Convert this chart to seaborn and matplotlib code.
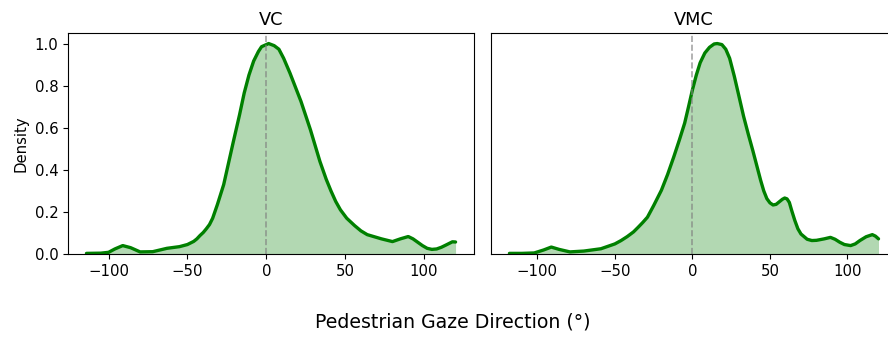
import matplotlib
matplotlib.use("Agg")
import matplotlib.pyplot as plt
import seaborn as sns

# Normalised gaze-direction density curves (peak = 1.0)
vc_angle = [-114, -105, -100, -96, -91, -86, -80, -72, -63, -55, -50, -46, -44,
            -42, -40, -38, -36, -34, -31, -27, -24, -21, -17, -14, -11, -8, -5,
            -3, 1.5, 5, 8, 11, 15, 22, 28, 34, 38, 41, 44, 47, 51, 56, 60, 64,
            73, 80, 85, 90, 93, 96, 99, 102, 105, 108, 111, 114, 118, 120]
vc_density = [0.003, 0.004, 0.008, 0.024, 0.04, 0.03, 0.01, 0.011, 0.027, 0.035,
              0.045, 0.06, 0.072, 0.088, 0.102, 0.12, 0.14, 0.17, 0.235, 0.33,
              0.43, 0.53, 0.66, 0.765, 0.85, 0.917, 0.962, 0.985, 1.0, 0.99,
              0.973, 0.93, 0.86, 0.725, 0.59, 0.44, 0.355, 0.3, 0.25, 0.21, 0.17,
              0.135, 0.11, 0.092, 0.072, 0.059, 0.072, 0.083, 0.072, 0.056, 0.04,
              0.027, 0.022, 0.024, 0.032, 0.043, 0.058, 0.057]

vmc_angle = [-118, -110, -102, -96, -91, -86, -79, -70, -59, -50, -46, -42, -38,
             -35, -32, -29, -25, -20, -16, -12, -8.5, -5, -2.5, 0, 2.5, 5, 8, 11,
             14, 16, 19, 21.5, 24, 27, 30, 33, 36, 39, 44, 46, 48, 50, 52, 54, 56,
             58, 59.5, 61, 62.5, 64, 66, 68, 70, 74, 77, 80, 85, 89, 92, 95, 98,
             102, 105, 108, 112, 116, 118, 120]
vmc_density = [0.003, 0.003, 0.005, 0.019, 0.033, 0.022, 0.01, 0.014, 0.025, 0.048,
               0.064, 0.083, 0.105, 0.127, 0.15, 0.175, 0.23, 0.303, 0.378, 0.462,
               0.54, 0.622, 0.7, 0.78, 0.85, 0.909, 0.955, 0.982, 0.998, 1.0,
               0.995, 0.973, 0.93, 0.845, 0.75, 0.654, 0.57, 0.49, 0.35, 0.3,
               0.263, 0.243, 0.233, 0.236, 0.248, 0.26, 0.266, 0.262, 0.245, 0.207,
               0.16, 0.12, 0.095, 0.07, 0.064, 0.065, 0.072, 0.079, 0.07, 0.056,
               0.045, 0.04, 0.048, 0.064, 0.082, 0.092, 0.085, 0.072]

panels = [("VC", vc_angle, vc_density), ("VMC", vmc_angle, vmc_density)]

plt.rcParams["font.family"] = ["DejaVu Sans"]
plt.rcParams["font.size"] = 10.7

fig = plt.figure(figsize=(8.88, 3.38), dpi=100)
ax_left = fig.add_axes([0.0766, 0.2485, 0.4572, 0.6538])
ax_right = fig.add_axes([0.5529, 0.2485, 0.4572, 0.6538], sharey=ax_left)

for ax, (title, ang, dens) in zip([ax_left, ax_right], panels):
    ax.fill_between(ang, dens, color="green", alpha=0.3, linewidth=0)
    sns.lineplot(x=ang, y=dens, color="green", linewidth=2.4, ax=ax,
                 solid_joinstyle="round", solid_capstyle="round")
    ax.axvline(0, color="gray", linestyle="--", linewidth=1.2, alpha=0.7)
    ax.set_title(title, fontsize=12.8)
    ax.set_xticks([-100, -50, 0, 50, 100])
    ax.set_xlabel("")

ax_left.set_ylim(0, 1.05)
ax_left.set_yticks([0.0, 0.2, 0.4, 0.6, 0.8, 1.0])
ax_left.set_ylabel("Density")
ax_right.set_ylabel("")
ax_right.tick_params(axis="y", left=False, labelleft=False)

fig.text(0.5096, 0.047, "Pedestrian Gaze Direction (°)", ha="center", va="center",
         fontsize=13.6)

fig.savefig("out.png", dpi=100)
